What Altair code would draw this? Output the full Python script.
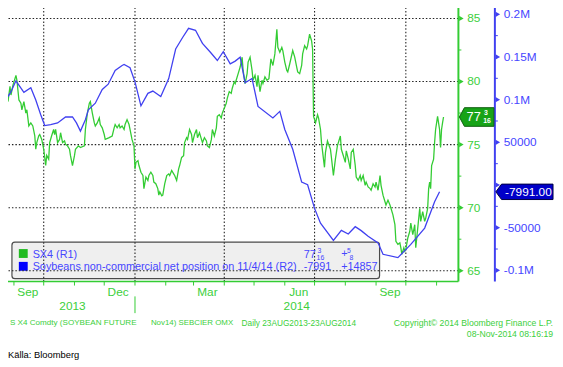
import altair as alt
import pandas as pd

# ---------------- data ----------------
green_dates = [
"2013-08-26","2013-08-28","2013-08-29","2013-08-31","2013-09-03","2013-09-04","2013-09-06","2013-09-08","2013-09-09","2013-09-11",
"2013-09-13","2013-09-14","2013-09-16","2013-09-18","2013-09-20","2013-09-22","2013-09-23","2013-09-24","2013-09-26","2013-09-27",
"2013-09-29","2013-10-01","2013-10-03","2013-10-04","2013-10-06","2013-10-07","2013-10-09","2013-10-11","2013-10-12","2013-10-13",
"2013-10-15","2013-10-17","2013-10-18","2013-10-20","2013-10-22","2013-10-23","2013-10-25","2013-10-27","2013-10-28","2013-10-30",
"2013-11-01","2013-11-02","2013-11-05","2013-11-07","2013-11-11","2013-11-12","2013-11-14","2013-11-16","2013-11-17","2013-11-19",
"2013-11-21","2013-11-22","2013-11-24","2013-11-26","2013-11-27","2013-11-29","2013-12-01","2013-12-02","2013-12-06","2013-12-09",
"2013-12-11","2013-12-12","2013-12-14","2013-12-16","2013-12-17","2013-12-19","2013-12-21","2013-12-22","2013-12-24","2013-12-26",
"2013-12-27","2013-12-29","2013-12-31","2014-01-01","2014-01-02","2014-01-04","2014-01-05","2014-01-07","2014-01-09","2014-01-10",
"2014-01-12","2014-01-14","2014-01-15","2014-01-17","2014-01-19","2014-01-20","2014-01-22","2014-01-24","2014-01-25","2014-01-26",
"2014-01-28","2014-01-29","2014-01-31","2014-02-02","2014-02-04","2014-02-05","2014-02-07","2014-02-09","2014-02-10","2014-02-12",
"2014-02-14","2014-02-15","2014-02-17","2014-02-19","2014-02-20","2014-02-22","2014-02-23","2014-02-25","2014-02-27","2014-02-28",
"2014-03-02","2014-03-04","2014-03-05","2014-03-07","2014-03-09","2014-03-10","2014-03-12","2014-03-14","2014-03-15","2014-03-17",
"2014-03-19","2014-03-20","2014-03-22","2014-03-24","2014-03-25","2014-03-27","2014-03-29","2014-03-30","2014-04-01","2014-04-03",
"2014-04-04","2014-04-06","2014-04-08","2014-04-09","2014-04-11","2014-04-12","2014-04-15","2014-04-17","2014-04-19","2014-04-20",
"2014-04-22","2014-04-24","2014-04-25","2014-04-27","2014-04-29","2014-04-30","2014-05-02","2014-05-04","2014-05-05","2014-05-07",
"2014-05-09","2014-05-10","2014-05-12","2014-05-14","2014-05-16","2014-05-18","2014-05-20","2014-05-22","2014-05-24","2014-05-25",
"2014-05-27","2014-05-29","2014-05-30","2014-06-01","2014-06-03","2014-06-04","2014-06-06","2014-06-09","2014-06-11","2014-06-13",
"2014-06-14","2014-06-16","2014-06-18","2014-06-19","2014-06-21","2014-06-23","2014-06-24","2014-06-26","2014-06-28","2014-06-29",
"2014-06-30","2014-07-02","2014-07-04","2014-07-05","2014-07-07","2014-07-08","2014-07-11","2014-07-12","2014-07-14","2014-07-17",
"2014-07-18","2014-07-20","2014-07-22","2014-07-24","2014-07-27","2014-07-28","2014-07-30","2014-08-01","2014-08-02","2014-08-04",
"2014-08-06","2014-08-07","2014-08-09","2014-08-11","2014-08-12","2014-08-14","2014-08-16","2014-08-17","2014-08-19","2014-08-21",
"2014-08-22","2014-08-24","2014-08-26","2014-08-27","2014-08-29","2014-08-31","2014-09-01","2014-09-03","2014-09-05","2014-09-06",
"2014-09-08","2014-09-10","2014-09-11","2014-09-13","2014-09-15","2014-09-16","2014-09-18","2014-09-20","2014-09-21","2014-09-23",
"2014-09-25","2014-09-26","2014-09-27","2014-09-29","2014-09-30","2014-10-01","2014-10-03","2014-10-05","2014-10-06","2014-10-08",
"2014-10-10","2014-10-11","2014-10-13","2014-10-15","2014-10-16","2014-10-18","2014-10-20","2014-10-21","2014-10-23","2014-10-24",
"2014-10-25","2014-10-26","2014-10-27","2014-10-29","2014-10-30","2014-10-31","2014-11-02","2014-11-04","2014-11-05","2014-11-06",
"2014-11-07","2014-11-08",
]
green_vals = [
78.41,79.61,78.93,79.71,80.49,80.10,78.54,78.28,77.76,78.41,
77.50,77.76,76.48,76.72,76.48,75.70,74.63,75.16,75.70,75.80,
75.41,74.63,73.34,74.14,73.85,75.16,75.70,76.20,75.80,76.20,
75.16,75.41,75.94,75.16,75.29,75.02,74.90,74.63,74.12,73.34,
74.12,74.63,74.90,74.77,74.90,76.20,77.50,78.28,78.41,77.50,
76.72,76.48,76.72,77.11,76.59,76.33,75.80,75.41,75.55,75.68,
76.33,76.59,76.33,76.59,76.33,76.48,76.20,76.59,76.98,76.59,
76.20,75.41,74.90,73.07,73.59,73.73,73.34,72.81,72.55,71.51,
72.42,72.16,72.55,72.81,72.55,72.03,71.90,71.51,70.99,71.25,
70.94,70.99,71.90,72.55,72.68,72.55,72.95,72.68,72.55,72.16,
73.07,73.34,73.98,74.12,75.16,75.55,75.41,76.20,75.80,75.16,
75.80,76.20,75.55,75.94,75.41,75.16,75.55,75.29,74.90,74.77,
75.41,76.20,75.68,76.33,77.24,77.37,77.11,77.50,77.89,78.28,
78.67,79.20,79.06,79.45,79.98,79.84,80.63,81.15,81.93,80.88,
79.84,80.63,81.54,81.93,80.88,80.10,80.49,79.59,80.49,79.20,
80.10,79.84,80.37,80.10,80.23,81.80,81.27,82.19,84.14,82.71,
82.32,82.71,82.45,81.54,80.88,80.76,81.41,82.45,81.93,81.15,
80.76,80.63,81.27,82.19,82.84,82.58,82.84,83.75,83.23,82.58,
77.24,76.72,77.37,77.11,76.20,75.16,73.20,74.38,75.29,74.63,
73.98,72.55,73.85,74.90,75.68,74.63,74.12,73.59,74.51,73.85,
73.07,74.38,74.63,73.34,72.42,72.16,72.55,72.16,72.55,71.77,
72.03,71.64,71.51,71.38,71.90,71.64,72.03,71.38,72.55,71.77,
70.99,70.47,70.21,70.60,70.21,69.95,69.43,68.65,67.34,67.09,
67.21,66.82,66.30,66.82,66.56,66.70,67.60,68.13,68.77,67.87,
68.65,66.82,68.38,69.95,68.91,69.69,68.91,69.16,69.95,71.51,
72.03,71.51,73.34,73.85,75.16,76.20,77.24,76.20,74.77,76.20,
76.72,77.1875,
]

blue_dates = [
"2013-08-26","2013-08-29","2013-09-03","2013-09-11","2013-09-18","2013-09-23","2013-09-28","2013-10-02","2013-10-08","2013-10-15",
"2013-10-23","2013-10-30","2013-11-03","2013-11-07","2013-11-12","2013-11-15","2013-11-22","2013-11-29","2013-12-05","2013-12-12",
"2013-12-19","2013-12-21","2013-12-27","2014-01-01","2014-01-07","2014-01-14","2014-01-19","2014-01-27","2014-02-04","2014-02-11",
"2014-02-18","2014-02-24","2014-03-03","2014-03-10","2014-03-18","2014-03-25","2014-03-31","2014-04-07","2014-04-12","2014-04-17",
"2014-04-22","2014-04-29","2014-05-05","2014-05-20","2014-05-27","2014-06-01","2014-06-09","2014-06-18","2014-06-24","2014-07-01",
"2014-07-07","2014-07-20","2014-07-28","2014-08-04","2014-08-11","2014-08-17","2014-08-24","2014-09-03","2014-09-08","2014-09-23",
"2014-10-06","2014-10-20","2014-10-30","2014-11-04",
]
blue_vals = [
103600,109350,122050,108540,113970,99650,82330,69630,70780,72750,
79670,79670,72750,63160,76560,88100,95840,112000,118130,134290,
140070,141220,137410,120900,92720,107390,110040,103580,124710,159350,
172860,183600,181290,165930,155540,145840,156230,142030,145150,149760,
119740,124710,92030,78520,86260,65010,41920,3460,350,-27370,
-44690,-65010,-53120,-57390,-48840,-53460,-60040,-67780,-81180,-85100,
-69630,-50460,-19630,-7991,
]

green_major = [65, 70, 75, 80, 85]
green_major_labels = ["65", "70", "75", "80", "85"]
green_minor = [67.5, 72.5, 77.5, 82.5]
blue_major = [-100000, -50000, 0, 50000, 100000, 150000, 200000]
# the "0" label sits behind the last-value badge in the reference, so it is not shown
blue_label_vals = [-100000, -50000, 50000, 100000, 150000, 200000]
blue_labels = ["-0.1M", "-50000", "50000", "0.1M", "0.15M", "0.2M"]
blue_minor = [-75000, -25000, 25000, 75000, 125000, 175000]

month_tick_dates = ["2013-09-01","2013-10-01","2013-11-01","2013-12-01","2014-01-01",
                    "2014-02-01","2014-03-01","2014-04-01","2014-05-01","2014-06-01",
                    "2014-07-01","2014-08-01","2014-09-01","2014-10-01","2014-11-01"]
grid_dates = ["2013-10-01","2014-01-01","2014-04-01","2014-07-01","2014-10-01"]
month_label_dates = ["2013-09-15","2013-12-15","2014-03-15","2014-06-15","2014-09-15"]
month_labels = ["Sep","Dec","Mar","Jun","Sep"]
year_label_dates = ["2013-10-30","2014-06-13"]
year_labels = ["2013","2014"]
year_sep_dates = ["2014-01-01"]

last_green = 77.1875
last_blue = -7991

# ---------------- styling ----------------
W, H = 457, 278
BOFF = 37
GREEN = "#33cc33"
GREEN_TXT = "#3ccf3c"
BLUE = "#4040f0"
BLUE_TXT = "#4646ff"
FONT = "Liberation Sans"

xs = alt.Scale(domain=[alt.DateTime(year=2013, month=8, date=26),
                       alt.DateTime(year=2014, month=11, date=23)])
gs = alt.Scale(domain=[64.14, 85.86], zero=False, nice=False)
bs = alt.Scale(domain=[-113160, 207850], zero=False, nice=False)

one = pd.DataFrame({"k": [0]})


def gy(field="v"):
    return alt.Y(f"{field}:Q", scale=gs, axis=None)


def by(field="v"):
    return alt.Y(f"{field}:Q", scale=bs, axis=None)


def dx(field="date"):
    return alt.X(f"{field}:T", scale=xs, axis=None)


def txt(t, x, y, size, color, align="left", baseline="middle", weight="normal"):
    return alt.Chart(pd.DataFrame({"t": [t]})).mark_text(
        font=FONT, fontSize=size, color=color, align=align, baseline=baseline,
        fontWeight=weight
    ).encode(x=alt.value(x), y=alt.value(y), text="t:N")


green_df = pd.DataFrame({"date": green_dates, "v": green_vals})
blue_df = pd.DataFrame({"date": blue_dates, "v": blue_vals})

layers = []

# legend box
layers.append(alt.Chart(one).mark_rect(fill="#efefef", stroke="#4a4a4a", strokeWidth=1.2,
                                       cornerRadius=3).encode(
    x=alt.value(4), x2=alt.value(377), y=alt.value(238), y2=alt.value(275)))
layers.append(alt.Chart(one).mark_rect(fill="#22bb22").encode(
    x=alt.value(11), x2=alt.value(20), y=alt.value(245), y2=alt.value(254)))
layers.append(alt.Chart(one).mark_rect(fill="#0000ff").encode(
    x=alt.value(11), x2=alt.value(20), y=alt.value(258), y2=alt.value(267)))

# grid
layers.append(alt.Chart(pd.DataFrame({"v": green_major})).mark_rule(
    color="#222222", strokeDash=[1.5, 2], strokeWidth=1.1).encode(y=gy()))
layers.append(alt.Chart(pd.DataFrame({"date": grid_dates})).mark_rule(
    color="#222222", strokeDash=[1.5, 2], strokeWidth=1.1).encode(x=dx()))

# x axis
layers.append(alt.Chart(one).mark_rule(color=GREEN, strokeWidth=1.5).encode(
    x=alt.value(0), x2=alt.value(W), y=alt.value(H)))
layers.append(alt.Chart(pd.DataFrame({"date": month_tick_dates})).mark_rule(
    color=GREEN, strokeWidth=1).encode(x=dx(), y=alt.value(H), y2=alt.value(H + 4)))
layers.append(alt.Chart(pd.DataFrame({"date": month_label_dates, "t": month_labels})).mark_text(
    font=FONT, fontSize=12, color=GREEN_TXT, baseline="middle").encode(
    x=dx(), y=alt.value(289), text="t:N"))
layers.append(alt.Chart(pd.DataFrame({"date": year_label_dates, "t": year_labels})).mark_text(
    font=FONT, fontSize=12, color=GREEN_TXT, baseline="middle").encode(
    x=dx(), y=alt.value(303), text="t:N"))
layers.append(alt.Chart(pd.DataFrame({"date": year_sep_dates})).mark_rule(
    color=GREEN, strokeWidth=1).encode(x=dx(), y=alt.value(293), y2=alt.value(310)))

# green axis (right)
layers.append(alt.Chart(one).mark_rule(color=GREEN, strokeWidth=2).encode(
    x=alt.value(W), y=alt.value(0), y2=alt.value(H)))
layers.append(alt.Chart(pd.DataFrame({"v": green_minor})).mark_rule(
    color=GREEN, strokeWidth=1).encode(x=alt.value(W), x2=alt.value(W + 3), y=gy()))
layers.append(alt.Chart(pd.DataFrame({"v": green_major})).mark_point(
    shape="triangle-right", filled=True, size=28, color=GREEN, opacity=1).encode(
    x=alt.value(W + 3), y=gy()))
layers.append(alt.Chart(pd.DataFrame({"v": green_major, "t": green_major_labels})).mark_text(
    font=FONT, fontSize=12, color=GREEN_TXT, align="left", baseline="middle").encode(
    x=alt.value(W + 9), y=gy(), text="t:N"))

# blue axis (right, offset)
layers.append(alt.Chart(one).mark_rule(color=BLUE, strokeWidth=2).encode(
    x=alt.value(W + BOFF), y=alt.value(0), y2=alt.value(H)))
layers.append(alt.Chart(pd.DataFrame({"v": blue_minor})).mark_rule(
    color=BLUE, strokeWidth=1).encode(x=alt.value(W + BOFF), x2=alt.value(W + BOFF + 3), y=by()))
layers.append(alt.Chart(pd.DataFrame({"v": blue_major})).mark_point(
    shape="triangle-right", filled=True, size=28, color=BLUE, opacity=1).encode(
    x=alt.value(W + BOFF + 3), y=by()))
layers.append(alt.Chart(pd.DataFrame({"v": blue_label_vals, "t": blue_labels})).mark_text(
    font=FONT, fontSize=12, color=BLUE_TXT, align="left", baseline="middle").encode(
    x=alt.value(W + BOFF + 9), y=by(), text="t:N"))

# series
layers.append(alt.Chart(green_df).mark_line(color=GREEN, strokeWidth=1.3).encode(
    x=dx(), y=gy()))
layers.append(alt.Chart(blue_df).mark_line(color=BLUE, strokeWidth=1.3).encode(
    x=dx(), y=by()))

# green badge
badge_g_path = "M -1 0 L -0.71 -0.54 L 1 -0.54 L 1 0.54 L -0.71 0.54 Z"
layers.append(alt.Chart(pd.DataFrame({"v": [last_green]})).mark_point(
    shape=badge_g_path, size=1225, filled=True, fill="#17a317", stroke="#0d5c0d",
    strokeWidth=1, opacity=1).encode(x=alt.value(475.5), y=gy()))
gb = alt.Chart(pd.DataFrame({"v": [last_green], "a": ["77"], "b": ["3"], "c": ["16"]}))
layers.append(gb.mark_text(font=FONT, fontSize=13, color="white", align="center",
                           baseline="middle").encode(x=alt.value(472.5), y=gy(), text="a:N"))
layers.append(gb.mark_text(font=FONT, fontSize=7, color="white", align="center",
                           baseline="middle", dy=-4, fontWeight="bold").encode(
    x=alt.value(485), y=gy(), text="b:N"))
layers.append(gb.mark_text(font=FONT, fontSize=7, color="white", align="center",
                           baseline="middle", dy=4, fontWeight="bold").encode(
    x=alt.value(486), y=gy(), text="c:N"))

# blue badge
badge_b_path = "M -1 0 L -0.8 -0.27 L 1 -0.27 L 1 0.27 L -0.8 0.27 Z"
layers.append(alt.Chart(pd.DataFrame({"v": [last_blue]})).mark_point(
    shape=badge_b_path, size=3364, filled=True, fill="#0000c8", stroke="#000040",
    strokeWidth=1, opacity=1).encode(x=alt.value(524), y=by()))
layers.append(alt.Chart(pd.DataFrame({"v": [last_blue], "t": ["-7991.00"]})).mark_text(
    font=FONT, fontSize=12, color="white", align="center", baseline="middle").encode(
    x=alt.value(528), y=by(), text="t:N"))

# legend texts
layers += [
    txt("SX4 (R1)", 25, 251, 11, BLUE_TXT),
    txt("Soybeans non-commercial net position on 11/4/14 (R2)", 25, 263.5, 11, BLUE_TXT),
    txt("77", 300, 251, 11, BLUE_TXT),
    txt("3", 316, 247, 7, BLUE_TXT, align="center"),
    txt("16", 317, 254.5, 7, BLUE_TXT, align="center"),
    txt("+", 338, 250.5, 11, BLUE_TXT),
    txt("5", 346, 247, 7, BLUE_TXT, align="center"),
    txt("8", 348.5, 254, 7, BLUE_TXT, align="center"),
    txt("-7991", 300, 263.5, 11, BLUE_TXT),
    txt("+14857", 338, 263.5, 11, BLUE_TXT),
]

# footer texts
layers += [
    txt("S X4 Comdty (SOYBEAN FUTURE", 2, 320, 8.2, GREEN_TXT),
    txt("Nov14) SEBCIER OMX", 145, 320, 8, GREEN_TXT),
    txt("Daily 23AUG2013-23AUG2014", 237, 320, 8.4, GREEN_TXT),
    txt("Copyright\u00a9 2014 Bloomberg Finance L.P.", 553, 320, 8.8, GREEN_TXT, align="right"),
    txt("08-Nov-2014 08:16:19", 553, 331, 8.8, GREEN_TXT, align="right"),
    txt("K\u00e4lla: Bloomberg", 0, 353, 9.5, "#000000"),
]

chart = alt.layer(*layers).resolve_scale(y="independent").properties(
    width=W, height=H,
    padding={"left": -3, "top": -4, "right": 0, "bottom": 0},
    background="white",
).configure_view(stroke=None)

chart.save("out.html", embed_options={"renderer": "svg", "actions": False})
